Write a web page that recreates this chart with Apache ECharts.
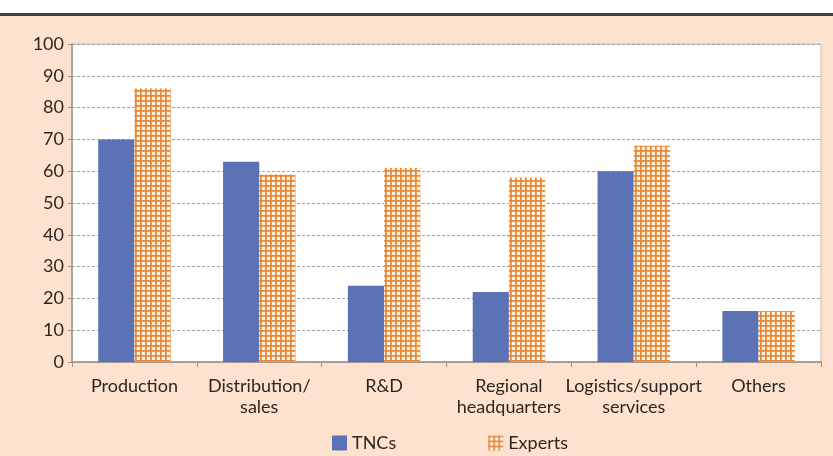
<!DOCTYPE html>
<html><head><meta charset="utf-8">
<script src="https://cdn.jsdelivr.net/npm/echarts@6/dist/echarts.min.js"></script>
<style>html,body{margin:0;padding:0;background:#fff}#c{width:833px;height:456px}</style>
</head><body><div id="c"></div>
<script>
const categories = ['Production', 'Distribution/\nsales', 'R&D', 'Regional\nheadquarters', 'Logistics/support\nservices', 'Others'];
const tncs = [70, 63, 24, 22, 60, 16];
const experts = [86, 59, 61, 58, 68, 16];
const seriesNames = ['TNCs', 'Experts'];

function makePattern() {
  const s = 5;
  const cv = document.createElement('canvas');
  cv.width = s; cv.height = s;
  const ctx = cv.getContext('2d');
  ctx.fillStyle = '#fff6ea';
  ctx.fillRect(0, 0, s, s);
  ctx.fillStyle = '#e8893a';
  ctx.fillRect(0, 0, s, 1.8);
  ctx.fillRect(0, 0, 1.8, s);
  return cv;
}
const pat = { image: makePattern(), repeat: 'repeat' };
const font = 'Lato, "Open Sans", sans-serif';
const chart = echarts.init(document.getElementById('c'));
chart.setOption({
  backgroundColor: '#fde3cf',
  animation: false,
  graphic: [
    { type: 'rect', shape: { x: 0, y: 0, width: 833, height: 13 }, style: { fill: '#ffffff' } },
    { type: 'rect', shape: { x: 0, y: 13, width: 833, height: 3 }, style: { fill: '#4b3d37' } }
  ],
  grid: { left: 72, right: 12, top: 44, bottom: 94, show: true, backgroundColor: '#ffffff', borderColor: '#c9bdb2', borderWidth: 1 },
  legend: {
    left: 327, top: 429, itemWidth: 15, itemHeight: 15, itemGap: 92,
    textStyle: { fontFamily: font, fontSize: 18, color: '#2f2520' },
    data: [{ name: 'TNCs', icon: 'rect' }, { name: 'Experts', icon: 'rect' }]
  },
  xAxis: {
    type: 'category', data: categories,
    axisLine: { lineStyle: { color: '#9e9088', width: 1.5 } },
    axisTick: { show: true, length: 5, lineStyle: { color: '#9e9088' } },
    axisLabel: { interval: 0, fontFamily: font, fontSize: 18, color: '#2f2520', margin: 14, lineHeight: 21 }
  },
  yAxis: {
    type: 'value', min: 0, max: 100, interval: 10,
    axisLine: { show: true, lineStyle: { color: '#9e9088', width: 1.5 } },
    axisTick: { show: true, length: 4, lineStyle: { color: '#9e9088' } },
    axisLabel: { fontFamily: font, fontSize: 18, color: '#2f2520', margin: 8 },
    splitLine: { lineStyle: { color: '#9aa0ad', type: [3, 2], width: 1 } }
  },
  series: [
    { name: seriesNames[0], type: 'bar', data: tncs, barGap: '0%', barCategoryGap: '42%', itemStyle: { color: '#5b73b4' } },
    { name: seriesNames[1], type: 'bar', data: experts, itemStyle: { color: pat } }
  ]
});
</script></body></html>
